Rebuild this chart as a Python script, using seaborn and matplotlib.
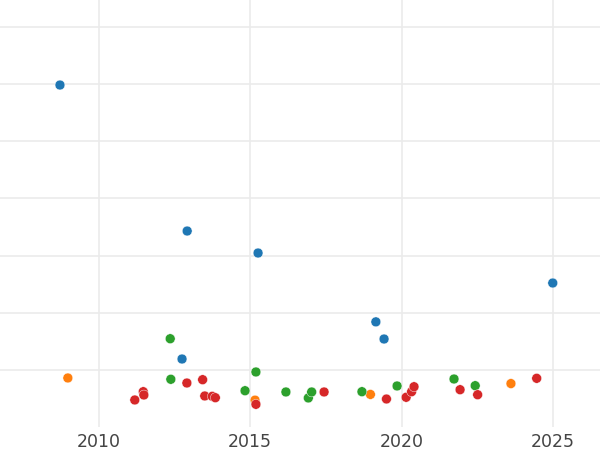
import matplotlib
matplotlib.use("Agg")
import matplotlib.pyplot as plt
import seaborn as sns
import pandas as pd

# Data (x = year, y = value in grid units)
blue_x = [2008.72, 2012.92, 2015.26, 2012.75, 2019.15, 2019.42, 2024.99]
blue_y = [5.985, 3.43, 3.045, 1.19, 1.84, 1.54, 2.52]

orange_x = [2008.98, 2015.16, 2018.97, 2023.61]
orange_y = [0.858, 0.47, 0.57, 0.76]

green_x = [2012.36, 2012.38, 2014.83, 2015.19, 2016.18, 2016.92, 2017.03,
           2018.69, 2019.85, 2021.73, 2022.43]
green_y = [1.545, 0.835, 0.635, 0.963, 0.613, 0.508, 0.613,
           0.618, 0.718, 0.84, 0.723]

red_x = [2011.19, 2011.47, 2011.49, 2012.91, 2013.43, 2013.50, 2013.75,
         2013.85, 2015.19, 2017.44, 2019.50, 2020.15, 2020.33, 2020.41,
         2021.93, 2022.51, 2024.46]
red_y = [0.473, 0.618, 0.56, 0.77, 0.828, 0.543, 0.537,
         0.513, 0.397, 0.613, 0.49, 0.52, 0.618, 0.705,
         0.653, 0.565, 0.852]

groups = ["A", "B", "C", "D"]
xs = [blue_x, orange_x, green_x, red_x]
ys = [blue_y, orange_y, green_y, red_y]

rows = []
for g, xv, yv in zip(groups, xs, ys):
    for a, b in zip(xv, yv):
        rows.append({"year": a, "value": b, "group": g})
df = pd.DataFrame(rows)

sns.set_theme(style="whitegrid")
fig = plt.figure(figsize=(6, 4.5), dpi=100)
ax = fig.add_axes([0, 23 / 450, 1, 427 / 450])

palette = dict(zip(groups, ["#1f77b4", "#ff7f0e", "#2ca02c", "#d62728"]))
sns.scatterplot(data=df, x="year", y="value", hue="group", palette=palette,
                s=50, edgecolor="white", linewidth=0.3, legend=False, ax=ax,
                zorder=3)

ax.set_xlim(2006.74, 2026.55)
ax.set_ylim(0, 427 / 57.14)
ax.set_xticks([2010, 2015, 2020, 2025])
ax.set_yticks([1, 2, 3, 4, 5, 6, 7])
ax.set_yticklabels([])
ax.tick_params(axis="x", labelsize=12.5, colors="#444444", pad=4.5, length=0)
ax.tick_params(axis="y", length=0)
ax.set_xlabel("")
ax.set_ylabel("")
ax.grid(True, color="#ebebeb", linewidth=1.2)
for sp in ax.spines.values():
    sp.set_visible(False)

fig.savefig("out.png", dpi=100)
